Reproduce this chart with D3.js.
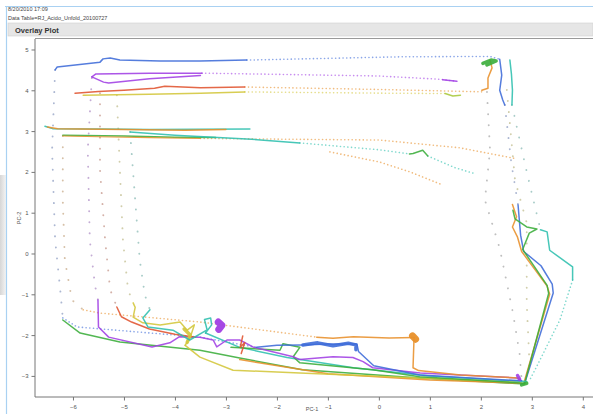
<!DOCTYPE html>
<html><head><meta charset="utf-8">
<script src="https://cdn.jsdelivr.net/npm/d3@7"></script>
<style>
body{margin:0;background:#fff;overflow:hidden}
svg{display:block;font-family:"Liberation Sans",Arial,sans-serif}
</style>
</head><body>
<svg id="chart" width="593" height="414"></svg>
<script>
// ---- Score trajectories (PC-1, PC-2) ----
// Blue batch
const blueTop = [[-6.35,4.50],[-6.31,4.57],[-5.47,4.69],[-5.41,4.77],[-5.27,4.79],[-5.08,4.74],[-4.29,4.72],[-3.51,4.72],[-2.59,4.74]];
const blueTopDots = [[-2.59,4.74],[0.41,4.82],[2.18,4.83],[2.37,4.76]];
const blueRight = [[2.37,4.76],[2.41,4.37],[2.37,4.00],[2.43,3.76],[2.47,3.64]];
const blueRightDots = [[2.47,3.64],[2.60,2.20],[2.73,1.19]];
const blueDrop = [[2.73,1.19],[2.78,0.45],[2.84,0.05],[3.18,-0.30],[3.40,-0.75],[3.42,-0.97],[2.88,-3.10]];
const blueLeftDots = [[-6.35,4.50],[-6.41,2.54],[-6.35,0.33],[-6.25,-0.89],[-6.20,-1.58]];
const blueBottomDots = [[-6.20,-1.58],[-5.92,-1.80],[-3.51,-2.05],[-2.40,-2.30]];
const blueBottom = [[-2.40,-2.30],[-2.00,-2.25],[-1.49,-2.24],[-1.00,-2.22],[-0.43,-2.22],[-0.40,-2.40],[-0.10,-2.75],[0.80,-2.98],[2.80,-3.12]];
const blueBlob = [[-1.49,-2.24],[-1.20,-2.19],[-0.90,-2.26],[-0.60,-2.20],[-0.45,-2.24],[-0.45,-2.36]];
// Purple batch
const purpleTopUpper = [[-5.63,4.33],[-5.55,4.40],[-4.50,4.42],[-3.47,4.42]];
const purpleTopLower = [[-5.63,4.33],[-5.40,4.20],[-5.30,4.18],[-4.50,4.28],[-3.50,4.36]];
const purpleTopDots = [[-3.47,4.42],[0.00,4.35],[1.20,4.27],[1.53,4.22]];
const purpleTopEnd = [[1.25,4.26],[1.53,4.22]];
const purpleLeftDots = [[-5.63,4.30],[-5.71,2.54],[-5.67,0.33],[-5.57,-0.77],[-5.51,-1.14]];
const purpleBottom = [[-5.51,-1.14],[-5.50,-1.80],[-5.30,-2.05],[-4.45,-2.29],[-4.10,-2.19],[-3.91,-2.04],[-3.51,-2.05],[-3.25,-2.12],[-3.18,-2.29],[-2.98,-2.12],[-2.73,-2.12],[-2.47,-2.29],[-1.68,-2.53],[-1.55,-2.60],[-0.90,-2.53],[-0.51,-2.55],[-0.31,-2.65],[-0.12,-2.80],[0.81,-2.93],[2.70,-3.05],[2.78,-3.10]];
const purpleBlob = [[-3.15,-1.68],[-3.08,-1.76],[-3.14,-1.86]];
const purpleEndBlob = [[2.72,-2.99],[2.76,-3.08]];
// Red batch
const redTop = [[-5.96,3.93],[-5.50,3.97],[-5.00,4.00],[-4.40,4.05],[-4.20,4.10],[-3.50,4.06],[-2.63,4.08]];
const redTopDots = [[-2.63,4.08],[0.00,4.02],[2.08,3.96]];
const redLeftDots = [[-5.47,3.93],[-5.47,2.05],[-5.37,0.33],[-5.27,-0.89],[-5.14,-1.31]];
const redBottom = [[-5.14,-1.31],[-5.05,-1.55],[-4.85,-1.68],[-4.50,-1.85],[-4.00,-1.98],[-3.60,-2.05]];
const redSquiggle = [[-2.67,-2.02],[-2.72,-2.30],[-2.63,-2.18],[-2.70,-2.45]];
// Yellow batch
const yellowTop = [[-5.80,3.88],[-4.50,3.90],[-3.50,3.93],[-2.63,3.96]];
const yellowTopDots = [[-2.63,3.96],[0.00,3.93],[1.30,3.92]];
const yellowTopEnd = [[1.30,3.92],[1.45,3.86],[1.60,3.88]];
const yellowLeftDots = [[-5.14,3.88],[-5.08,2.05],[-5.02,0.33],[-4.92,-0.89],[-4.82,-1.21]];
const yellowBottom = [[-4.82,-1.21],[-4.78,-1.32],[-4.82,-1.56],[-4.63,-1.70],[-4.29,-1.75],[-3.90,-1.68],[-3.76,-1.88],[-3.62,-1.75],[-3.70,-2.05],[-3.80,-2.25]];
const yellowBlob = [[-3.82,-1.85],[-3.70,-2.00],[-3.76,-2.18]];
const yellowBottomLow = [[-3.80,-2.25],[-3.51,-2.54],[-2.86,-2.86],[-1.55,-2.93],[0.80,-3.05],[2.76,-3.15]];
// Orange batch
const orangeMidTop = [[-6.50,3.10],[-6.30,3.06],[-5.00,3.04],[-3.80,3.02],[-3.00,3.04]];
const orangeMid2 = [[-6.20,2.88],[-5.50,2.86],[-4.50,2.84],[-3.50,2.82]];
const orangeMidDots = [[-3.50,2.82],[0.02,2.78],[1.59,2.59],[2.71,2.32]];
const orangeMid2Dots = [[-0.96,2.49],[0.02,2.24],[0.61,2.00],[1.25,1.68]];
const orangeRight = [[2.18,4.74],[2.22,4.55],[2.14,4.30],[2.14,4.05],[2.02,4.00]];
const orangeLeftDots = [[-6.20,2.88],[-6.20,1.31],[-6.16,-0.16],[-6.02,-1.14],[-5.80,-1.38]];
const orangeBottomDots = [[-5.80,-1.38],[-5.47,-1.46],[-3.50,-1.68],[-1.22,-2.05]];
const orangeBottom = [[-1.22,-2.05],[-0.90,-2.08],[-0.50,-2.04],[0.20,-2.07],[0.69,-2.06]];
const orangeBlob = [[0.66,-2.02],[0.72,-2.10]];
const orangeDrop = [[0.69,-2.06],[0.67,-2.80],[0.78,-2.87],[1.60,-2.98],[2.76,-3.05]];
const orangeRightMid = [[2.62,1.20],[2.70,0.90],[2.62,0.65],[2.72,0.40],[2.80,0.05],[3.30,-0.80],[3.35,-1.00],[2.85,-3.15]];
const orangeLowBottom = [[-2.73,-2.60],[-1.00,-2.95],[1.00,-3.10],[2.80,-3.18]];
// Green batch
const greenMid = [[-6.20,2.90],[-5.00,2.88],[-4.00,2.85],[-3.20,2.84]];
const greenBump = [[0.60,2.44],[0.67,2.45],[0.86,2.53],[0.96,2.39]];
const greenTopRight = [[2.04,4.66],[2.20,4.74],[2.30,4.72],[2.12,4.62]];
const greenRightMid = [[2.63,1.06],[2.67,0.85],[2.90,0.65],[3.10,0.60],[2.95,0.50],[2.82,0.10],[3.30,-0.78],[3.33,-0.98],[2.86,-3.18]];
const greenBottomLeft = [[-6.20,-1.63],[-5.86,-1.95],[-5.08,-2.17],[-3.51,-2.37],[-2.73,-2.56],[-1.50,-2.85],[0.80,-3.05],[2.86,-3.20]];
const greenBottom = [[-2.90,-2.30],[-1.94,-2.37],[-1.88,-2.21],[-1.55,-2.30],[-1.68,-2.53],[-1.55,-2.68],[-0.12,-2.85],[0.80,-3.02],[2.86,-3.18]];
const greenEndBlob = [[2.80,-3.22],[2.90,-3.18]];
// Teal batch
const tealMidTop = [[-6.55,3.12],[-6.40,3.06],[-5.50,3.05],[-4.50,3.04],[-2.53,3.05]];
const tealMid2 = [[-4.88,2.98],[-4.00,2.90],[-2.50,2.80],[-1.55,2.71]];
const tealMidDots = [[-1.55,2.71],[0.02,2.54],[0.60,2.44]];
const tealMidDots2 = [[0.96,2.39],[1.50,2.10],[1.90,1.95]];
const tealRight = [[2.57,4.74],[2.60,4.40],[2.62,4.00],[2.61,3.64]];
const tealRightDots = [[2.61,3.64],[2.90,2.00],[3.17,0.58]];
const tealRightMid = [[3.17,0.58],[3.30,0.53],[3.35,0.08],[3.80,-0.33],[3.80,-0.65]];
const tealRightDots2 = [[3.80,-0.65],[3.55,-1.63],[3.16,-2.61],[2.96,-3.10]];
const tealLeftDots = [[-4.88,2.98],[-4.78,1.31],[-4.69,-0.16],[-4.59,-1.02],[-4.49,-1.38]];
const tealBottom = [[-4.49,-1.38],[-4.63,-1.58],[-4.53,-1.80],[-4.04,-1.88],[-3.71,-2.12],[-3.37,-1.87],[-3.42,-1.62],[-3.30,-1.58],[-3.28,-1.75],[-3.40,-1.95]];
const tealBottomRun = [[-3.40,-1.95],[-2.73,-2.30],[-1.80,-2.55],[-0.50,-2.80],[1.00,-3.00],[2.90,-3.14]];
// Shared fast-transition columns on the right
const rightDotsA = [[2.12,3.96],[2.18,2.54],[2.08,1.31],[2.37,0.13],[2.63,-1.46],[2.76,-2.45],[2.80,-3.10]];
const rightDotsB = [[2.51,4.01],[2.67,1.80],[2.90,0.75],[2.90,-1.21],[2.96,-2.86]];

// Axis ticks
const xTicks = [-6,-5,-4,-3,-2,-1,0,1,2,3,4];
const yTicks = [-3,-2,-1,0,1,2,3,4,5];

const C = {blue:"#3d6bd8", purple:"#a13fe4", red:"#e0532f", yellow:"#d3c63a",
           orange:"#e8902a", green:"#3aad3a", teal:"#2dbfae", gray:"#8a8a8a"};

// [points, colour, style]
const traces = [
  [blueLeftDots,C.blue,"sparse"],[purpleLeftDots,C.purple,"sparse"],[redLeftDots,C.red,"sparse"],
  [yellowLeftDots,C.yellow,"sparse"],[orangeLeftDots,C.orange,"sparse"],[tealLeftDots,C.teal,"sparse"],
  [rightDotsA,C.gray,"sparse"],[rightDotsB,C.yellow,"sparse"],
  [blueTopDots,C.blue,"dots"],[purpleTopDots,C.purple,"dots"],[redTopDots,C.orange,"dots"],
  [yellowTopDots,C.yellow,"dots"],[orangeMidDots,C.orange,"dots"],[orangeMid2Dots,C.orange,"dots"],
  [tealMidDots,C.teal,"dots"],[tealMidDots2,C.teal,"dots"],[blueRightDots,C.blue,"sparse"],
  [tealRightDots,C.teal,"sparse"],[tealRightDots2,C.teal,"dots"],
  [blueBottomDots,C.blue,"dots"],[orangeBottomDots,C.orange,"dots"],
  [blueTop,C.blue,"line"],[purpleTopUpper,C.purple,"line"],[purpleTopLower,C.purple,"line"],
  [purpleTopEnd,C.purple,"line"],[redTop,C.red,"line"],[yellowTop,C.yellow,"line"],[yellowTopEnd,"#a8c83a","line"],
  [tealMidTop,C.teal,"line"],[orangeMidTop,C.orange,"line"],[greenMid,C.green,"line"],[orangeMid2,C.orange,"thin"],
  [tealMid2,C.teal,"line"],[greenBump,C.green,"line"],
  [blueRight,C.blue,"line"],[tealRight,C.teal,"line"],[orangeRight,C.orange,"line"],[greenTopRight,C.green,"thick"],
  [tealRightMid,C.teal,"line"],[blueDrop,C.blue,"line"],[orangeRightMid,C.orange,"line"],[greenRightMid,C.green,"line"],
  [greenBottomLeft,C.green,"line"],[orangeLowBottom,C.orange,"line"],[yellowBottomLow,C.yellow,"line"],
  [tealBottomRun,C.teal,"line"],[greenBottom,C.green,"line"],[purpleBottom,C.purple,"line"],
  [blueBottom,C.blue,"line"],[blueBlob,C.blue,"thick"],[redBottom,C.red,"line"],[redSquiggle,C.red,"line"],
  [yellowBottom,C.yellow,"line"],[yellowBlob,C.yellow,"thick"],[tealBottom,C.teal,"line"],
  [orangeBottom,C.orange,"line"],[orangeDrop,C.orange,"line"],[orangeBlob,C.orange,"blob"],
  [purpleBlob,C.purple,"blob"],[purpleEndBlob,C.purple,"thick"],[greenEndBlob,C.green,"thick"]
];

const W = 593, H = 414;
const svg = d3.select("#chart");

// page chrome
const g0 = svg.append("defs").append("linearGradient").attr("id","sh").attr("x1",0).attr("x2",1);
g0.append("stop").attr("offset",0).attr("stop-color","#d6d6d6");
g0.append("stop").attr("offset",1).attr("stop-color","#f4f4f4");
svg.append("rect").attr("x",0).attr("y",175).attr("width",6).attr("height",120).attr("fill","url(#sh)");
svg.append("line").attr("x1",5).attr("x2",W).attr("y1",6.5).attr("y2",6.5).attr("stroke","#a9d1f2").attr("stroke-width",1.2);
svg.append("line").attr("x1",6.5).attr("x2",6.5).attr("y1",6).attr("y2",H).attr("stroke","#a9d1f2").attr("stroke-width",1.2);
svg.append("text").attr("x",8).attr("y",11).attr("font-size",5.5).attr("fill","#444").text("8/20/2010 17:09");
svg.append("text").attr("x",8).attr("y",19.5).attr("font-size",5.5).attr("fill","#444").text("Data Table=RJ_Acido_Unfold_20100727");
svg.append("rect").attr("x",8).attr("y",23).attr("width",W-8).attr("height",13).attr("fill","#e6e6e6").attr("stroke","#d0d0d0").attr("stroke-width",0.6);
svg.append("text").attr("x",15).attr("y",32.5).attr("font-size",7.5).attr("font-weight","bold").attr("fill","#333").text("Overlay Plot");
svg.append("line").attr("x1",35).attr("x2",W).attr("y1",38.5).attr("y2",38.5).attr("stroke","#9a9a9a").attr("stroke-width",1);

// scales
const x = d3.scaleLinear().domain([-6.745, 4.2]).range([35, 593]);
const y = d3.scaleLinear().domain([-3.517, 5.257]).range([397, 39]);

// axes
const axC = "#777";
const xMinor = d3.range(-6.6, 4.2, 0.2).map(v => +v.toFixed(1));
const yMinor = d3.range(-3.4, 5.2, 0.2).map(v => +v.toFixed(1));
const gx = svg.append("g").attr("transform", "translate(0,397)");
gx.call(d3.axisBottom(x).tickValues(xMinor).tickSize(2).tickFormat(""));
gx.call(d3.axisBottom(x).tickValues(xTicks).tickSize(3.5).tickFormat(d3.format("d")));
gx.selectAll("text").attr("font-size", 6).attr("fill", "#555").attr("dy", "0.9em");
gx.selectAll("line").attr("stroke", axC);
gx.select(".domain").attr("stroke", axC).attr("d", "M35,0H593");
const gy = svg.append("g").attr("transform", "translate(35,0)");
gy.call(d3.axisLeft(y).tickValues(yMinor).tickSize(2).tickFormat(""));
gy.call(d3.axisLeft(y).tickValues(yTicks).tickSize(3.5).tickFormat(d3.format("d")));
gy.selectAll("text").attr("font-size", 6).attr("fill", "#555");
gy.selectAll("line").attr("stroke", axC);
gy.select(".domain").attr("stroke", axC).attr("d", "M0,39V397");
svg.selectAll(".domain").attr("stroke-width", 1);

svg.append("text").attr("x", 312).attr("y", 411).attr("font-size", 5.5).attr("fill", "#555").attr("text-anchor","middle").text("PC-1");
svg.append("text").attr("transform", "translate(21,218) rotate(-90)").attr("font-size", 5.5).attr("fill", "#555").attr("text-anchor","middle").text("PC-2");

// trajectories
const plot = svg.append("g");
const line = d3.line().x(d => x(d[0])).y(d => y(d[1]));
const style = {
  line:   {w:1.5, dash:null, op:0.88},
  thin:   {w:1.1, dash:null, op:0.85},
  thick:  {w:3.5, dash:null, op:0.9},
  blob:   {w:7,   dash:null, op:0.95},
  dots:   {w:1.6, dash:"0.1 3.6",  op:0.6},
  sparse: {w:1.9, dash:"0.1 11", op:0.55}
};
traces.forEach(([pts, col, st]) => {
  const s = style[st];
  const c = (st === "sparse") ? d3.interpolateRgb(col, "#8a8a8a")(0.55) : col;
  plot.append("path").attr("d", line(pts)).attr("fill", "none")
    .attr("stroke", c).attr("stroke-width", s.w).attr("stroke-opacity", s.op)
    .attr("stroke-linecap", "round").attr("stroke-linejoin", "round")
    .attr("stroke-dasharray", s.dash);
});
</script>
</body></html>
